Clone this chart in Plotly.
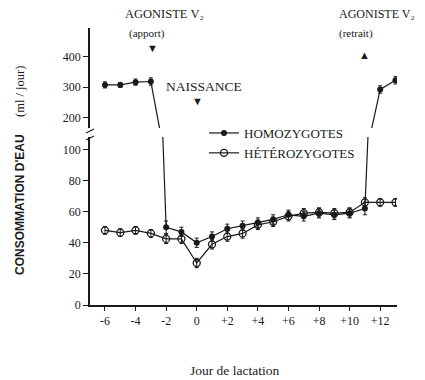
import plotly.graph_objects as go

# ---- data ----
days = [-6, -5, -4, -3, -2, -1, 0, 1, 2, 3, 4, 5, 6, 7, 8, 9, 10, 11, 12, 13]
homo = [307, 307, 316, 318, 50, 47, 40, 44, 49, 51, 53, 55, 58, 57, 59, 58, 59, 62, 292, 322]
homo_err = [10, 8, 10, 12, 4, 3, 3, 3, 3, 3, 3, 3, 3, 3, 3, 3, 3, 4, 12, 12]
hetero = [48, 46.5, 48, 46, 42.5, 42.5, 27, 39, 44, 46, 51.5, 53.5, 57, 59, 59.5, 59, 59.5, 66, 66, 66]
hetero_err = [2.5, 2.5, 2.5, 2.5, 3, 3, 3, 3, 3, 3, 3, 3, 3, 3, 3, 3, 3, 3, 2.5, 2.5]
xtick_vals = [-6, -4, -2, 0, 2, 4, 6, 8, 10, 12]
xtick_text = ["-6", "-4", "-2", "0", "+2", "+4", "+6", "+8", "+10", "+12"]
low_ticks = [0, 20, 40, 60, 80, 100]
high_ticks = [200, 300, 400]

# page has an 8px body margin, so the figure is 8px smaller than the window
W, H = 417, 372
L, R, T, B = 82, 28, 17, 75


def X(px):  # reference-image pixel -> paper x
    return (px - 90) / 307


def Y(py):  # reference-image pixel -> paper y
    return (305 - py) / 280


serif = "Liberation Serif"
ink = "#1a1a1a"

fig = go.Figure()

fig.add_trace(go.Scatter(
    x=days, y=homo, yaxis="y2", mode="lines+markers",
    line=dict(color=ink, width=1.2),
    marker=dict(symbol="circle", size=6, color=ink),
    error_y=dict(type="data", array=homo_err, color=ink, thickness=1, width=2),
    showlegend=False, cliponaxis=True,
))
fig.add_trace(go.Scatter(
    x=days, y=homo, yaxis="y", mode="lines+markers", name="HOMOZYGOTES",
    line=dict(color=ink, width=1.2),
    marker=dict(symbol="circle", size=6, color=ink),
    error_y=dict(type="data", array=homo_err, color=ink, thickness=1, width=2),
    cliponaxis=True,
))
fig.add_trace(go.Scatter(
    x=days, y=hetero, yaxis="y", mode="lines+markers", name="HÉTÉROZYGOTES",
    line=dict(color=ink, width=1.2),
    marker=dict(symbol="circle-open", size=7, color=ink, line=dict(width=1.3)),
    error_y=dict(type="data", array=hetero_err, color=ink, thickness=1, width=2),
    cliponaxis=True,
))

axis_common = dict(
    showline=True, linecolor=ink, linewidth=1.5, ticks="outside",
    ticklen=5, tickwidth=1.2, tickcolor=ink, showgrid=False, zeroline=False,
    tickfont=dict(family=serif, size=12, color=ink),
)

fig.update_layout(
    width=W, height=H,
    margin=dict(l=L, r=R, t=T, b=B),
    paper_bgcolor="white", plot_bgcolor="white",
    xaxis=dict(
        range=[-6.98, 13.1], tickvals=xtick_vals, ticktext=xtick_text,
        showline=True, linecolor=ink, linewidth=1.5, ticks="outside",
        ticklen=4, tickwidth=1.2, tickcolor=ink, showgrid=False, zeroline=False,
        tickfont=dict(family=serif, size=12, color=ink),
    ),
    yaxis=dict(domain=[0, Y(137)], range=[0, 108], tickvals=low_ticks,
               anchor="x", **axis_common),
    yaxis2=dict(domain=[Y(128), Y(28)], range=[166, 493], tickvals=high_ticks,
                anchor="x", **axis_common),
    legend=dict(x=X(204), y=Y(118), xanchor="left", yanchor="top",
                font=dict(family=serif, size=13, color=ink),
                itemwidth=30, tracegroupgap=0, bgcolor="rgba(0,0,0,0)"),
    showlegend=True,
)

ann = [
    dict(text="AGONISTE V₂", x=X(164), y=Y(14), font=dict(size=12.5)),
    dict(text="(apport)", x=X(147), y=Y(33), font=dict(size=11)),
    dict(text="▼", x=X(152), y=Y(48), font=dict(size=11)),
    dict(text="NAISSANCE", x=X(204), y=Y(86), font=dict(size=13.5)),
    dict(text="▼", x=X(197), y=Y(101), font=dict(size=11)),
    dict(text="AGONISTE V₂", x=X(377), y=Y(14), font=dict(size=12)),
    dict(text="(retrait)", x=X(356), y=Y(33), font=dict(size=11)),
    dict(text="▲", x=X(364), y=Y(55), font=dict(size=11)),
    dict(text="Jour de lactation", x=X(234), y=Y(370), font=dict(size=13.5)),
]
annotations = []
for a in ann:
    f = dict(family=serif, color=ink)
    f.update(a.pop("font"))
    annotations.append(dict(xref="paper", yref="paper", showarrow=False,
                            xanchor="center", yanchor="middle", font=f, **a))

annotations.append(dict(
    text="<b>CONSOMMATION D'EAU</b>",
    xref="paper", yref="paper", x=X(20), y=Y(205), textangle=-90,
    showarrow=False, xanchor="center", yanchor="middle",
    font=dict(family="Liberation Sans", size=12, color=ink),
))
annotations.append(dict(
    text="(ml / jour)",
    xref="paper", yref="paper", x=X(20), y=Y(92), textangle=-90,
    showarrow=False, xanchor="center", yanchor="middle",
    font=dict(family=serif, size=12.5, color=ink),
))
fig.update_layout(annotations=annotations)

# axis break marks
for y0 in (131, 138):
    fig.add_shape(type="line", xref="paper", yref="paper",
                  x0=X(86), y0=Y(y0 + 2), x1=X(94), y1=Y(y0 - 2),
                  line=dict(color=ink, width=1.2))

fig.write_html("out.html")
